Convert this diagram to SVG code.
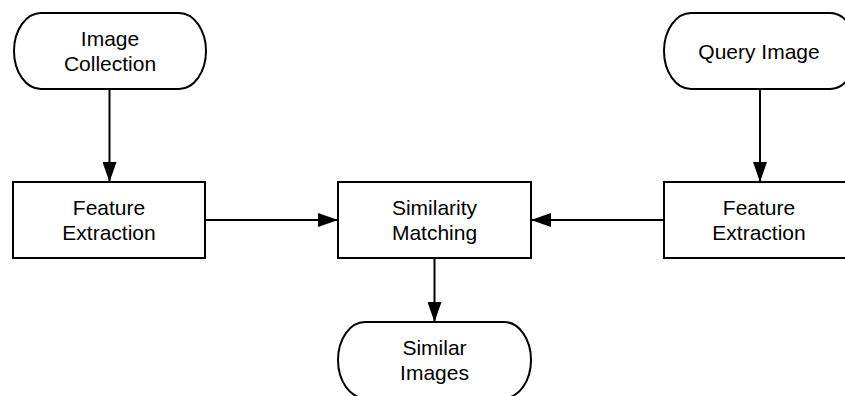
<svg xmlns="http://www.w3.org/2000/svg" width="845" height="396" viewBox="0 0 845 396">
<defs>
<style>
.box{fill:#fff;stroke:#000;stroke-width:2}
.lbl{font-family:"Liberation Sans",Arial,sans-serif;font-size:21px;fill:#000;text-anchor:middle}
.edge{stroke:#000;stroke-width:2;fill:none}
</style>
<marker id="ah" markerWidth="20" markerHeight="14" refX="20" refY="7" orient="auto" markerUnits="userSpaceOnUse">
<path d="M0,0 L20,7 L0,14 Z" fill="#000"/>
</marker>
</defs>
<rect width="845" height="396" fill="#fff"/>
<g id="connectors">
<line class="edge" x1="109.5" y1="89" x2="109.5" y2="182" marker-end="url(#ah)"/>
<line class="edge" x1="760" y1="89" x2="760" y2="182" marker-end="url(#ah)"/>
<line class="edge" x1="205" y1="220" x2="338" y2="220" marker-end="url(#ah)"/>
<line class="edge" x1="664" y1="220" x2="531" y2="220" marker-end="url(#ah)"/>
<line class="edge" x1="434.5" y1="258" x2="434.5" y2="322" marker-end="url(#ah)"/>
</g>
<g id="image-collection">
<path class="box" d="M41,13 H179 A27,38 0 0 1 179,89 H41 A27,38 0 0 1 41,13 Z"/>
<text class="lbl" x="110" y="46">Image</text>
<text class="lbl" x="110" y="71">Collection</text>
</g>
<g id="query-image">
<path class="box" d="M691,13 H830 A27,38 0 0 1 830,89 H691 A27,38 0 0 1 691,13 Z"/>
<text class="lbl" x="759" y="59">Query Image</text>
</g>
<g id="feature-extraction-left">
<rect class="box" x="13" y="182" width="192" height="76"/>
<text class="lbl" x="109" y="215">Feature</text>
<text class="lbl" x="109" y="240">Extraction</text>
</g>
<g id="similarity-matching">
<rect class="box" x="338" y="182" width="193" height="76"/>
<text class="lbl" x="434.5" y="215">Similarity</text>
<text class="lbl" x="434.5" y="240">Matching</text>
</g>
<g id="feature-extraction-right">
<rect class="box" x="664" y="182" width="193" height="76"/>
<text class="lbl" x="759" y="215">Feature</text>
<text class="lbl" x="759" y="240">Extraction</text>
</g>
<g id="similar-images">
<path class="box" d="M365,322 H504 A27,38 0 0 1 504,398 H365 A27,38 0 0 1 365,322 Z"/>
<text class="lbl" x="434.5" y="355">Similar</text>
<text class="lbl" x="434.5" y="380">Images</text>
</g>
</svg>
